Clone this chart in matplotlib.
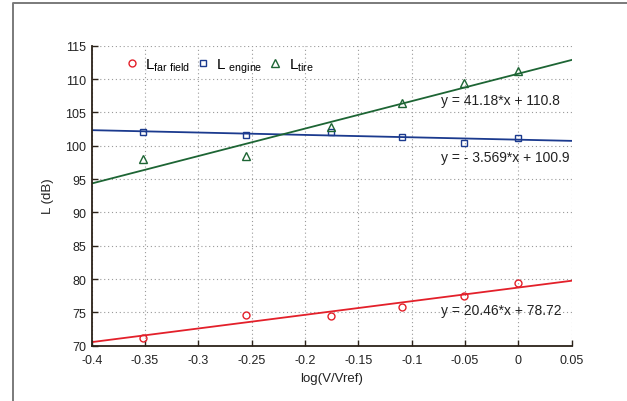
import numpy as np
import matplotlib
matplotlib.use("Agg")
import matplotlib.pyplot as plt
from matplotlib.lines import Line2D

plt.rcParams["font.family"] = ["Liberation Sans", "DejaVu Sans"]
plt.rcParams["mathtext.fontset"] = "custom"
plt.rcParams["mathtext.rm"] = "Liberation Sans"
plt.rcParams["mathtext.it"] = "Liberation Sans"

# ------------------------------------------------------------
# Data
# ------------------------------------------------------------
log_v = [-0.352, -0.255, -0.176, -0.109, -0.051, 0.0]

l_far_field = [71.15, 74.65, 74.5, 75.75, 77.4, 79.4]
l_engine = [102.0, 101.55, 102.0, 101.25, 100.35, 101.1]
l_tire = [98.0, 98.5, 102.75, 106.4, 109.4, 111.2]

# linear fits: (slope, intercept)
fit_far = (20.46, 78.72)
fit_engine = (-3.569, 100.9)
fit_tire = (41.18, 110.8)

fit_labels = ["y = 20.46*x + 78.72", "y = - 3.569*x + 100.9", "y = 41.18*x + 110.8"]
fit_label_y = [75.4, 98.3, 106.8]

x_limits = (-0.4, 0.05)
y_limits = (70, 115)
x_ticks = [-0.4, -0.35, -0.3, -0.25, -0.2, -0.15, -0.1, -0.05, 0, 0.05]
x_tick_labels = ["-0.4", "-0.35", "-0.3", "-0.25", "-0.2", "-0.15", "-0.1", "-0.05", "0", "0.05"]
y_ticks = [70, 75, 80, 85, 90, 95, 100, 105, 110, 115]

RED = "#e3202a"
BLUE = "#1b3a8e"
GREEN = "#1d6534"
AXIS = "#2b2219"

# ------------------------------------------------------------
# Figure
# ------------------------------------------------------------
fig = plt.figure(figsize=(6.27, 4.02), dpi=100)
ax = fig.add_axes([0.1463, 0.1376, 0.7655, 0.7463])

xfit = np.array(x_limits)
for (slope, icpt), color in zip([fit_far, fit_engine, fit_tire], [RED, BLUE, GREEN]):
    ax.plot(xfit, slope * xfit + icpt, color=color, lw=1.3, zorder=2)

ax.plot(log_v, l_far_field, "o", mfc="none", mec=RED, ms=5, mew=1.0,
        ls="none", label=r"L$_{\mathrm{far\ field}}$", zorder=3)
ax.plot(log_v, l_engine, "s", mfc="none", mec=BLUE, ms=4.2, mew=1.0,
        ls="none", label=r"L $_{\mathrm{engine}}$", zorder=3)
ax.plot(log_v, l_tire, "^", mfc="none", mec=GREEN, ms=5.6, mew=1.0,
        ls="none", label=r"L$_{\mathrm{tire}}$", zorder=3)

for txt, ty in zip(fit_labels, fit_label_y):
    ax.text(-0.0725, ty, txt, fontsize=10, color="#222222", va="center", ha="left")

ax.set_xlim(*x_limits)
ax.set_ylim(*y_limits)
ax.set_xticks(x_ticks)
ax.set_xticklabels(x_tick_labels)
ax.set_yticks(y_ticks)
ax.tick_params(direction="in", length=4, width=1, colors=AXIS, labelsize=9,
               labelcolor="#222222", pad=4)
ax.tick_params(axis="x", pad=6)

ax.grid(True, ls=(0, (1, 2.5)), color="#9a9a9a", lw=0.8)
ax.set_axisbelow(True)
for side in ["top", "right"]:
    ax.spines[side].set_visible(False)
for side in ["left", "bottom"]:
    ax.spines[side].set_color(AXIS)
    ax.spines[side].set_linewidth(1.3)

ax.set_xlabel("log(V/Vref)", fontsize=9.5, color="#222222", labelpad=4)
ax.set_ylabel("L (dB)", fontsize=9.5, color="#222222", labelpad=8)

ax.legend(loc="upper left", bbox_to_anchor=(0.045, 1.0), ncol=3, frameon=False,
          fontsize=11, handlelength=1.0, handletextpad=0.4, columnspacing=0.3,
          borderaxespad=0.3)

# figure frame (top and left only, as in the reference crop)
fig.add_artist(Line2D([0.021, 0.021, 1.0], [0.0, 0.99, 0.99],
                      transform=fig.transFigure, color="#7a7a7a", lw=1.4))

fig.savefig("out.png", dpi=100)
